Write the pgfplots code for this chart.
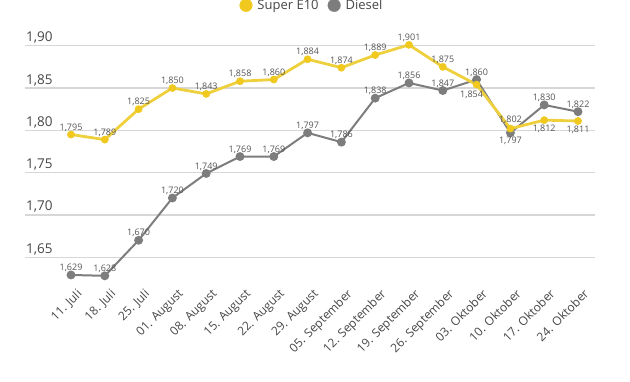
\documentclass[border=0pt]{standalone}
\usepackage{pgfplots}
\pgfplotsset{compat=1.18}
\usepackage{pgfplotstable}
\usepackage{fontspec}
\setmainfont{Open Sans}
\definecolor{e10line}{RGB}{238,208,60}
\definecolor{e10mark}{RGB}{240,200,30}
\definecolor{dsl}{RGB}{125,125,125}
\definecolor{txt}{RGB}{70,70,70}
\definecolor{lab}{RGB}{85,85,85}
\definecolor{gridc}{RGB}{215,215,215}

\pgfplotstableread{
x e10 ep ex dsl dp
0 1.795 7 0 1.629 7
1 1.789 7 0 1.628 7
2 1.825 7 0 1.670 7
3 1.850 7 0 1.720 7
4 1.843 7 0 1.749 7
5 1.858 7 0 1.769 7
6 1.860 7 0 1.769 7
7 1.884 7 0 1.797 7
8 1.874 7 0 1.786 7
9 1.889 7 0 1.838 7
10 1.901 7 0 1.856 7
11 1.875 7 0 1.847 7
12 1.854 -10 -5 1.860 7
13 1.802 9 0 1.797 -8
14 1.812 -9 0 1.830 7
15 1.811 -9 0 1.822 7
}\data

\begin{document}
\begin{tikzpicture}
\path[use as bounding box] (0pt,0pt) rectangle (630pt,-381pt);
\begin{axis}[
  at={(25pt,-3.4pt)}, anchor=north west,
  x=33.8pt, y=846pt,
  xmin=-1.361, xmax=15.503,
  ymin=1.60, ymax=1.95,
  clip=false,
  axis line style={draw=none},
  tick style={draw=none},
  /pgf/number format/assume math mode=true,
  ytick={1.65,1.70,1.75,1.80,1.85,1.90},
  yticklabel={\pgfmathprintnumber[fixed,precision=2,zerofill,use comma]{\tick}},
  yticklabel style={anchor=south west, inner sep=0pt, xshift=1pt, yshift=2pt,
    font=\fontsize{13.5}{16}\selectfont, text=txt},
  ymajorgrids,
  grid style={gridc, line width=1.3pt},
  xtick={0,...,15},
  xticklabels={11. Juli, 18. Juli, 25. Juli, 01. August, 08. August, 15. August, 22. August, 29. August, 05. September, 12. September, 19. September, 26. September, 03. Oktober, 10. Oktober, 17. Oktober, 24. Oktober},
  xticklabel style={inner sep=0pt, xshift=5pt, yshift=11.5pt, rotate=45, anchor=north east,
    font=\fontsize{12}{14}\selectfont, text=txt},
  legend columns=2,
  legend style={at={(0.5035,0.9935)}, anchor=center, draw=none, fill=none,
    font=\fontsize{13}{15}\selectfont, text=txt, inner sep=0pt,
    /tikz/every odd column/.append style={column sep=3pt},
    /tikz/every even column/.append style={column sep=7pt}},
]
\addlegendimage{legend image code/.code={\fill[e10mark] (6pt,0pt) circle (6.3pt);}}
\addlegendentry{Super E10}
\addlegendimage{legend image code/.code={\fill[dsl] (6pt,0pt) circle (6.3pt);}}
\addlegendentry{Diesel}

\addplot[forget plot, color=dsl, line width=2pt, mark=*, mark size=3.4pt,
  mark options={fill=dsl, draw=dsl},
  point meta=explicit,
  nodes near coords={\pgfmathprintnumber[fixed,precision=3,zerofill,use comma]{\pgfplotspointmeta}},
  visualization depends on={\thisrow{dp}\as\lp},
  every node near coord/.append style={anchor=center, yshift=\lp*1pt, inner sep=0pt,
    font=\fontsize{9}{10}\selectfont, text=lab}]
  table[x=x, y=dsl, meta=dsl]{\data};

\addplot[forget plot, color=e10line, line width=2.8pt, mark=*, mark size=3.6pt,
  mark options={fill=e10mark, draw=e10mark, line width=0.5pt},
  point meta=explicit,
  nodes near coords={\pgfmathprintnumber[fixed,precision=3,zerofill,use comma]{\pgfplotspointmeta}},
  visualization depends on={\thisrow{ep}\as\lp},
  visualization depends on={\thisrow{ex}\as\lx},
  every node near coord/.append style={anchor=center, yshift=\lp*1pt, xshift=\lx*1pt, inner sep=0pt,
    font=\fontsize{9}{10}\selectfont, text=lab}]
  table[x=x, y=e10, meta=e10]{\data};
\end{axis}
\end{tikzpicture}
\end{document}
